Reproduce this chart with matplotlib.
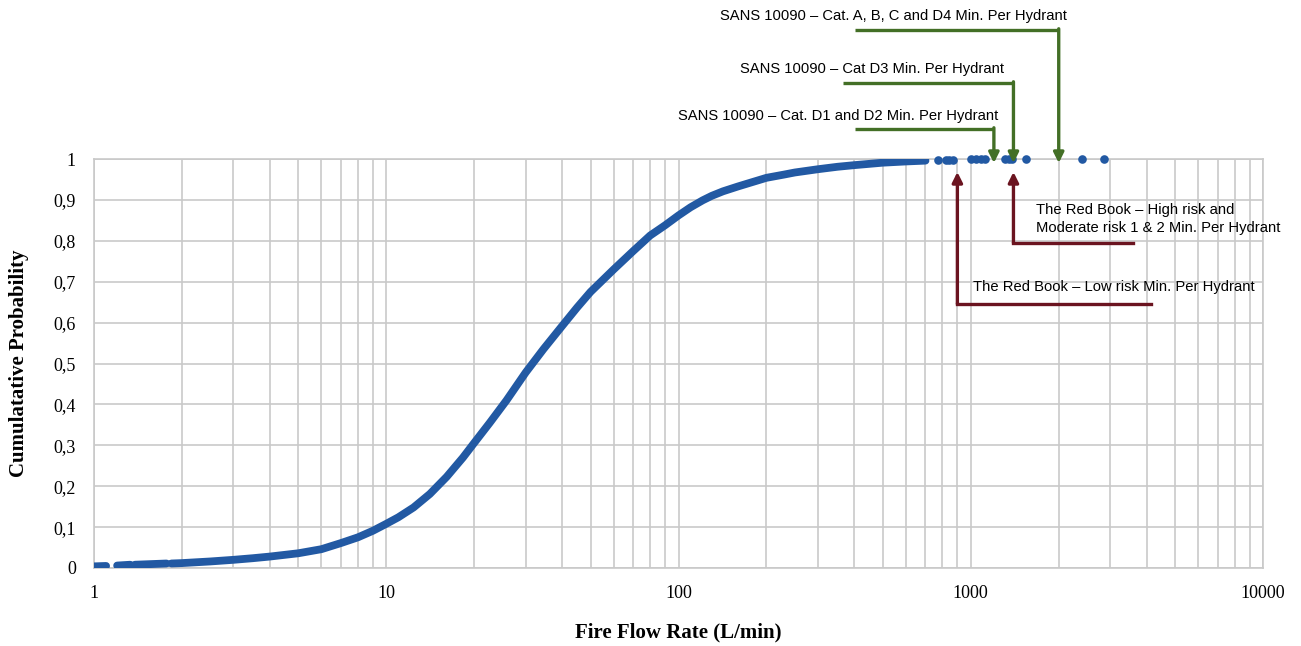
import numpy as np
import matplotlib
matplotlib.use("Agg")
import matplotlib.pyplot as plt
from matplotlib.ticker import FixedLocator, FuncFormatter, LogLocator, NullFormatter

# ---------------- data ----------------
# fire flow rate (L/min) and cumulative probability
# (np.nan marks the small gaps between point clusters at the low end)
flow_curve = [1.0, 1.1, np.nan, 1.2, 1.33, np.nan, 1.38, 1.77, np.nan,
              1.84, 2.0, 2.5, 3.0, 3.5, 4.0, 5.0, 6.0, 7.0, 8.0, 9.0, 10, 11,
              12.4, 14.1, 16.1, 18.3, 20, 22.6, 25.8, 30, 34.5, 40, 45, 50, 60,
              70, 80, 90, 100, 110, 121, 130, 142, 160, 176, 200, 230, 250,
              300, 350, 400, 500, 600, 700]
prob_curve = [0.004, 0.005, np.nan, 0.006, 0.008, np.nan, 0.008, 0.011, np.nan,
              0.011, 0.012, 0.016, 0.020, 0.024, 0.028, 0.036, 0.046, 0.061,
              0.075, 0.091, 0.108, 0.124, 0.148, 0.181, 0.223, 0.270, 0.306,
              0.355, 0.410, 0.478, 0.535, 0.592, 0.637, 0.675, 0.730,
              0.775, 0.813, 0.838, 0.862, 0.882, 0.899, 0.910, 0.921, 0.933,
              0.942, 0.954, 0.962, 0.967, 0.975, 0.981, 0.985, 0.991, 0.994,
              0.996]
# isolated points in the upper tail
flow_tail = [770, 820, 845, 870, 1000, 1040, 1080, 1120, 1310, 1350, 1385,
             1546, 2400, 2850]
prob_tail = [0.997, 0.998, 0.998, 0.998, 0.999, 0.999, 0.999, 0.999, 1.0,
             1.0, 1.0, 1.0, 1.0, 1.0]

# hydrant minimum flow requirements (L/min)
sans_labels = ["SANS 10090 \u2013 Cat. A, B, C and D4 Min. Per Hydrant",
               "SANS 10090 \u2013 Cat D3 Min. Per Hydrant",
               "SANS 10090 \u2013 Cat. D1 and D2 Min. Per Hydrant"]
sans_flows = [2000, 1400, 1200]
redbook_labels = ["The Red Book \u2013 High risk and\nModerate risk 1 & 2 Min. Per Hydrant",
                  "The Red Book \u2013 Low risk Min. Per Hydrant"]
redbook_flows = [1400, 900]

x_ticks = [1, 10, 100, 1000, 10000]
y_ticks = [0, 0.1, 0.2, 0.3, 0.4, 0.5, 0.6, 0.7, 0.8, 0.9, 1.0]

# ---------------- style ----------------
W, H = 1301, 646
BLUE = "#2259a3"
GREEN = "#436f26"
RED = "#6b1420"
GRID = "#c9c9c9"
SERIF = ["Liberation Serif", "DejaVu Serif"]
SANS = ["Liberation Sans", "DejaVu Sans"]

fig = plt.figure(figsize=(W / 100, H / 100), dpi=100)
L, R, T, B = 94, 1263, 159, 568
ax = fig.add_axes([L / W, 1 - B / H, (R - L) / W, (B - T) / H])

ax.set_xscale("log")
ax.set_xlim(1, 10000)
ax.set_ylim(0, 1)

ax.xaxis.set_major_locator(FixedLocator(x_ticks))
ax.xaxis.set_major_formatter(FuncFormatter(lambda v, p: f"{v:g}"))
ax.xaxis.set_minor_locator(LogLocator(base=10, subs=np.arange(2, 10)))
ax.xaxis.set_minor_formatter(NullFormatter())
ax.yaxis.set_major_locator(FixedLocator(y_ticks))
ax.yaxis.set_major_formatter(
    FuncFormatter(lambda v, p: f"{v:g}".replace(".", ",")))

ax.grid(True, which="major", axis="both", color=GRID, lw=1.2)
ax.grid(True, which="minor", axis="x", color=GRID, lw=1.2)
ax.set_axisbelow(True)
for s in ax.spines.values():
    s.set_color(GRID)
    s.set_linewidth(1.2)
ax.tick_params(which="both", length=0)
ax.tick_params(axis="x", pad=12)
ax.tick_params(axis="y", pad=13)
for lab in ax.get_xticklabels() + ax.get_yticklabels():
    lab.set_family(SERIF)
    lab.set_fontsize(13)

ax.set_xlabel("Fire Flow Rate (L/min)", family=SERIF, fontsize=15,
              fontweight="bold", va="center")
ax.set_ylabel("Cumulatative Probability", family=SERIF, fontsize=15,
              fontweight="bold", va="center")
ax.xaxis.set_label_coords(0.5, (B - 632) / (B - T))
ax.yaxis.set_label_coords((19 - L) / (R - L), 0.5)

# ---------------- data marks ----------------
ax.plot(flow_curve, prob_curve, color=BLUE, lw=5.6, solid_capstyle="round",
        solid_joinstyle="round", zorder=3)
ax.plot(flow_tail, prob_tail, "o", color=BLUE, ms=6.2, mec="none", zorder=3,
        clip_on=False)

# ---------------- annotations ----------------
def px2x(px):
    return 10 ** ((px - L) / ((R - L) / 4))


def py2y(py):
    return (B - py) / (B - T)


arrow_kw = dict(arrowstyle="-|>,head_length=0.6,head_width=0.3", lw=2.4,
                shrinkA=0, shrinkB=0)

# SANS 10090 (green, from above)
sans_line_py = [30, 83, 129]
sans_start_px = [855, 843, 855]
sans_text_px = [(720, 16), (740, 69), (678, 116)]
for lab, fl, lpy, spx, (tx, ty) in zip(sans_labels, sans_flows, sans_line_py,
                                      sans_start_px, sans_text_px):
    yl = py2y(lpy)
    ax.plot([px2x(spx), fl], [yl, yl], color=GREEN, lw=2.4, clip_on=False,
            solid_capstyle="butt", zorder=4)
    ax.annotate("", xy=(fl, py2y(163)), xytext=(fl, yl + 0.003),
                arrowprops=dict(color=GREEN, **arrow_kw),
                annotation_clip=False, zorder=4)
    fig.text(tx / W, 1 - ty / H, lab, family=SANS, fontsize=10.6,
             ha="left", va="center")

# Red Book (maroon, from below)
red_line_py = [243, 304]
red_end_px = [1133, 1151]
red_text_px = [(1036, 219), (973, 287)]
for lab, fl, lpy, epx, (tx, ty) in zip(redbook_labels, redbook_flows,
                                      red_line_py, red_end_px, red_text_px):
    yl = py2y(lpy)
    ax.plot([fl, px2x(epx)], [yl, yl], color=RED, lw=2.4, clip_on=False,
            solid_capstyle="projecting", zorder=4)
    ax.annotate("", xy=(fl, py2y(172)), xytext=(fl, yl),
                arrowprops=dict(color=RED, **arrow_kw),
                annotation_clip=False, zorder=4)
    fig.text(tx / W, 1 - ty / H, lab, family=SANS, fontsize=10.6,
             ha="left", va="center", linespacing=1.35)

fig.savefig("out.png", dpi=100, facecolor="white")
